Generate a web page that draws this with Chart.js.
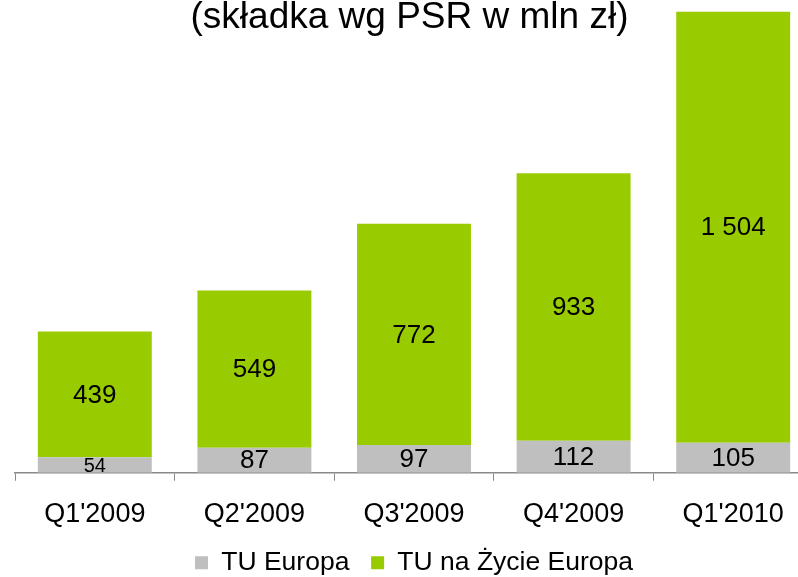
<!DOCTYPE html>
<html>
<head>
<meta charset="utf-8">
<script src="https://cdn.jsdelivr.net/npm/chart.js@4.4.1/dist/chart.umd.min.js"></script>
<style>
  html, body { margin: 0; padding: 0; background: #fff; overflow: hidden; }
  #wrap { width: 830px; height: 586px; }
</style>
</head>
<body>
<div id="wrap"><canvas id="chart" width="830" height="586"></canvas></div>
<script>
const quarters = ["Q1'2009", "Q2'2009", "Q3'2009", "Q4'2009", "Q1'2010"];
const tuEuropa = [54, 87, 97, 112, 105];
const tuZycie = [439, 549, 772, 933, 1504];
const chartTitle = "(składka wg PSR w mln zł)";

const fontFamily = "'Liberation Sans', Arial, sans-serif";

function fmt(v) {
  return String(v).replace(/\B(?=(\d{3})+(?!\d))/g, " ");
}

// values in the middle of each segment + title on top
const labelsPlugin = {
  id: 'segLabels',
  afterDatasetsDraw(chart) {
    const ctx = chart.ctx;
    ctx.save();
    ctx.fillStyle = '#000';
    ctx.textAlign = 'center';
    ctx.textBaseline = 'middle';
    chart.data.datasets.forEach(function(ds, i) {
      chart.getDatasetMeta(i).data.forEach(function(bar, j) {
        const h = Math.abs(bar.base - bar.y);
        const size = h < 20 ? 20 : 26;
        ctx.font = size + 'px ' + fontFamily;
        ctx.fillText(fmt(ds.data[j]), bar.x, (bar.y + bar.base) / 2 + 1);
      });
    });
    ctx.textBaseline = 'alphabetic';
    ctx.font = '37px ' + fontFamily;
    ctx.fillText(chartTitle, 409.5, 28);
    ctx.restore();
  }
};

new Chart(document.getElementById('chart'), {
  type: 'bar',
  data: {
    labels: quarters,
    datasets: [{
      label: 'TU Europa',
      data: tuEuropa,
      backgroundColor: '#bfbfbf'
    }, {
      label: 'TU na Życie Europa',
      data: tuZycie,
      backgroundColor: '#99cc00'
    }]
  },
  options: {
    responsive: false,
    devicePixelRatio: 1,
    animation: false,
    categoryPercentage: 1,
    barPercentage: 0.714,
    layout: { padding: { left: 15, right: 17, top: 0, bottom: 0 } },
    plugins: {
      title: { display: false },
      tooltip: { enabled: false },
      legend: {
        position: 'bottom',
        labels: {
          color: '#000',
          font: { family: fontFamily, size: 26.5 },
          boxWidth: 13,
          boxHeight: 13,
          padding: 21.75
        }
      }
    },
    scales: {
      x: {
        stacked: true,
        afterFit: function(scale) { scale.height = 55; },
        grid: { drawOnChartArea: false, drawTicks: true, tickLength: 8, color: '#898989' },
        border: { color: '#898989', width: 1.5 },
        ticks: { color: '#000', padding: 18, font: { family: fontFamily, size: 27 } }
      },
      y: {
        stacked: true,
        display: false,
        min: 0,
        max: 1650
      }
    }
  },
  plugins: [labelsPlugin]
});
</script>
</body>
</html>
